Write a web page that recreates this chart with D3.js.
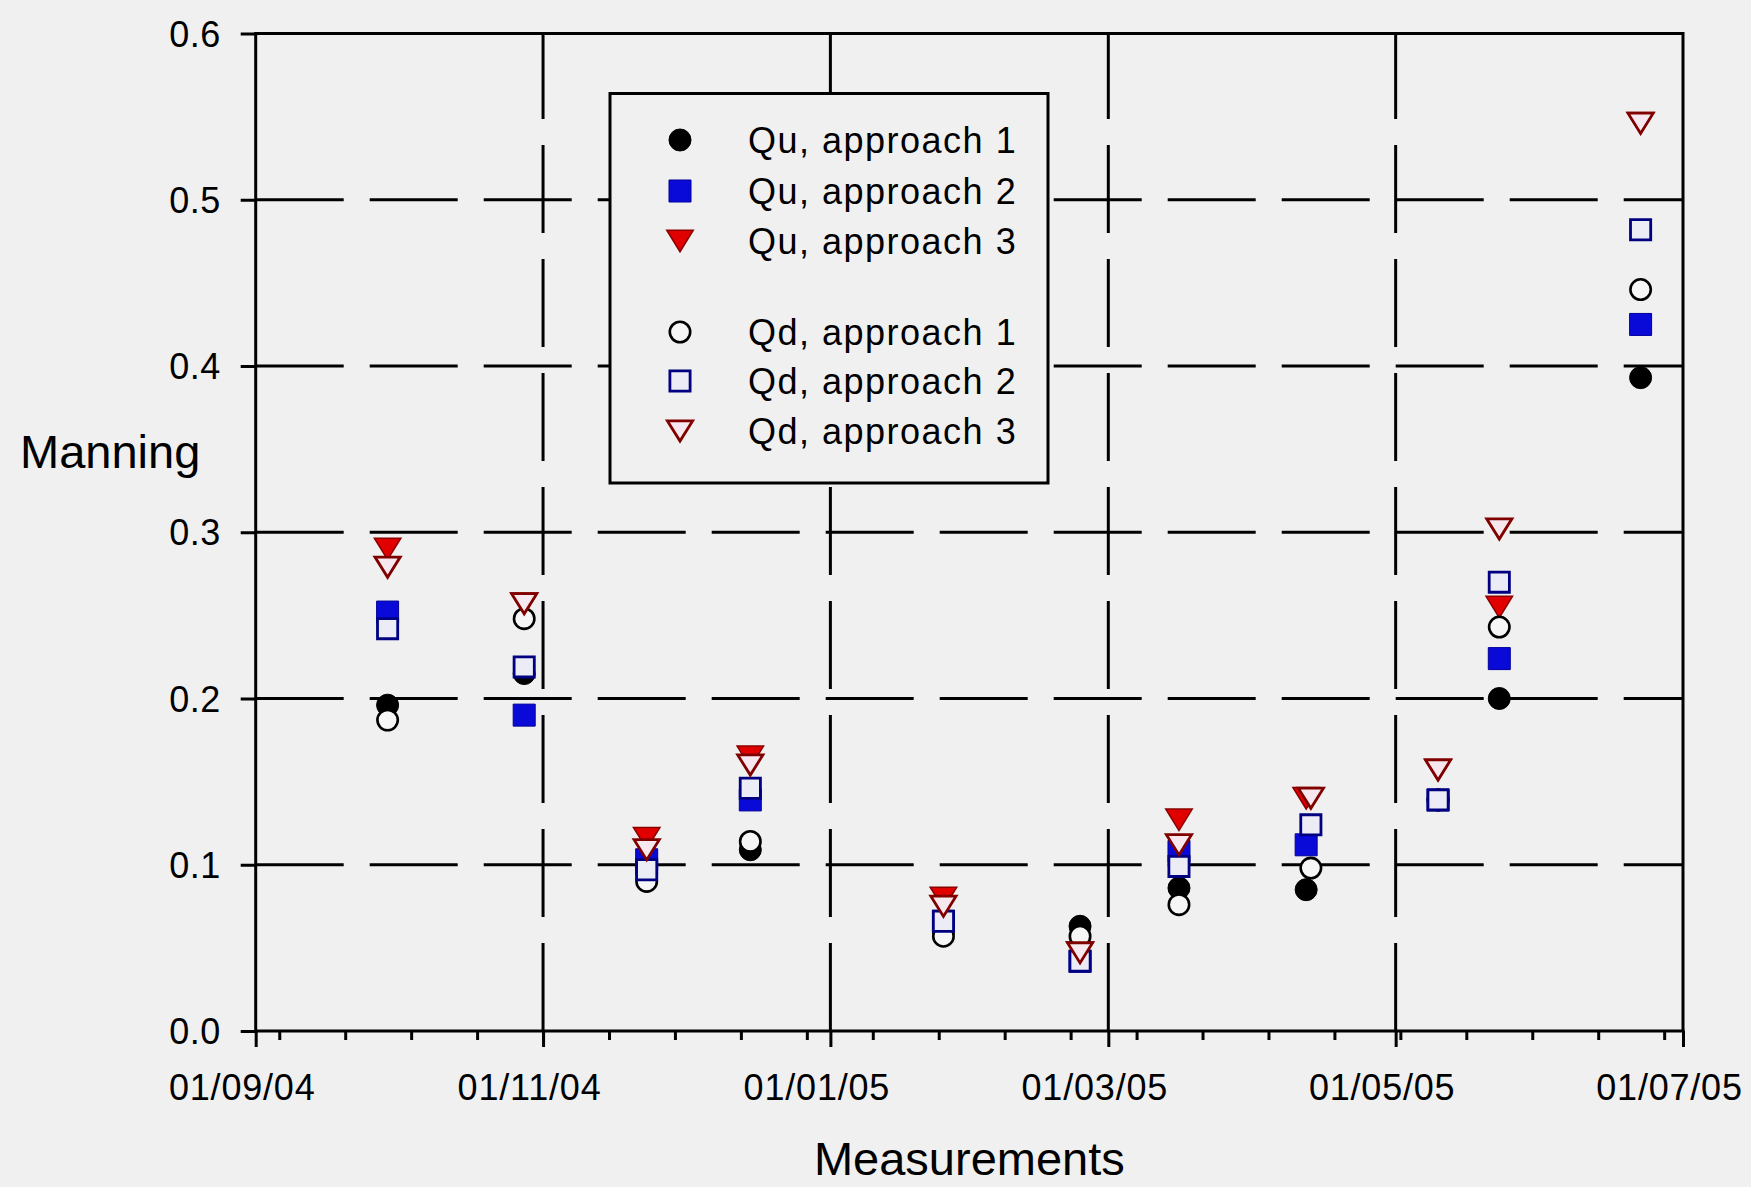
<!DOCTYPE html>
<html><head><meta charset="utf-8">
<script src="https://cdn.jsdelivr.net/npm/d3@7"></script>
<style>
html,body{margin:0;padding:0;background:#f0f0f0;}
svg{display:block;}
text{font-family:"Liberation Sans",Arial,sans-serif;fill:#000;}
</style>
</head><body>
<svg id="chart" width="1751" height="1187"></svg>
<script>
// ---------------- data ----------------
const quDates = ["2004-09-29","2004-10-28","2004-11-23","2004-12-15","2005-01-25","2005-02-23","2005-03-16","2005-04-12","2005-05-10","2005-05-23","2005-06-22"];
const qdDates = ["2004-09-29","2004-10-28","2004-11-23","2004-12-15","2005-01-25","2005-02-23","2005-03-16","2005-04-13","2005-05-10","2005-05-23","2005-06-22"];

const quApproach1 = [0.196, 0.215, 0.095, 0.109, 0.060, 0.063, 0.086, 0.085, 0.139, 0.200, 0.393];
const quApproach2 = [0.252, 0.190, 0.103, 0.139, 0.066, 0.042, 0.108, 0.112, 0.139, 0.224, 0.425];
const quApproach3 = [0.290, 0.257, 0.116, 0.165, 0.080, 0.047, 0.127, 0.140, 0.157, 0.255, 0.546];
const qdApproach1 = [0.187, 0.248, 0.090, 0.114, 0.057, 0.057, 0.076, 0.098, 0.139, 0.243, 0.446];
const qdApproach2 = [0.242, 0.219, 0.097, 0.146, 0.066, 0.042, 0.099, 0.124, 0.139, 0.270, 0.482];
const qdApproach3 = [0.279, 0.257, 0.109, 0.160, 0.075, 0.047, 0.112, 0.140, 0.157, 0.302, 0.546];

const seriesNames = ["Qu, approach 1","Qu, approach 2","Qu, approach 3","Qd, approach 1","Qd, approach 2","Qd, approach 3"];
const yTickValues = [0.0, 0.1, 0.2, 0.3, 0.4, 0.5, 0.6];
const xDomain = ["2004-09-01","2005-07-01"];
const yLabel = "Manning";
const xLabel = "Measurements";

// ---------------- styles ----------------
const markerStyles = [
  {shape:"circle",   fill:"#000000", stroke:"#000000", sw:1},
  {shape:"square",   fill:"#0a0ad8", stroke:"#00009a", sw:1},
  {shape:"triangle", fill:"#e00000", stroke:"#8a0000", sw:1.5},
  {shape:"circle",   fill:"#f6f6f6", stroke:"#000000", sw:2.6},
  {shape:"square",   fill:"#ececf6", stroke:"#000080", sw:2.8},
  {shape:"triangle", fill:"#f6e8ee", stroke:"#800000", sw:2.8}
];

// ---------------- layout ----------------
const parse = d3.utcParse("%Y-%m-%d");
const L = 255.7, R = 1683, T = 33.5, B = 1031;
const svg = d3.select("#chart");
const x = d3.scaleUtc().domain(xDomain.map(parse)).range([L, R]);
const y = d3.scaleLinear().domain([0, 0.6]).range([B, T]);
const lineW = 3;
const dash = "88,26";

const series = [
  {name:seriesNames[0], dates:quDates, values:quApproach1, st:markerStyles[0]},
  {name:seriesNames[1], dates:quDates, values:quApproach2, st:markerStyles[1]},
  {name:seriesNames[2], dates:quDates, values:quApproach3, st:markerStyles[2]},
  {name:seriesNames[3], dates:qdDates, values:qdApproach1, st:markerStyles[3]},
  {name:seriesNames[4], dates:qdDates, values:qdApproach2, st:markerStyles[4]},
  {name:seriesNames[5], dates:qdDates, values:qdApproach3, st:markerStyles[5]}
];

// ---------------- grid ----------------
const grid = svg.append("g").attr("stroke","#000").attr("stroke-width",lineW);
grid.selectAll("line.h").data(yTickValues.filter(v => v > 0 && v < 0.6)).join("line")
  .attr("x1", L).attr("x2", R).attr("y1", d => y(d)).attr("y2", d => y(d))
  .attr("stroke-dasharray", dash);
const majorMonths = d3.utcMonth.every(2).range(x.domain()[0], d3.utcDay.offset(x.domain()[1], 1));
grid.selectAll("line.v").data(majorMonths.filter(d => +d > +x.domain()[0] && +d < +x.domain()[1])).join("line")
  .attr("x1", d => x(d)).attr("x2", d => x(d)).attr("y1", B).attr("y2", T)
  .attr("stroke-dasharray", dash);
grid.append("line").attr("x1", L).attr("x2", R).attr("y1", y(0.6)).attr("y2", y(0.6));
grid.append("line").attr("x1", R).attr("x2", R).attr("y1", T - 1.5).attr("y2", B);
grid.append("line").attr("x1", L).attr("x2", L).attr("y1", T - 1.5).attr("y2", B + 1.5);
grid.append("line").attr("x1", L).attr("x2", R + 1.5).attr("y1", B).attr("y2", B);

// ---------------- axes ----------------
const fsTick = 36;
const yAxis = d3.axisLeft(y).tickValues(yTickValues).tickFormat(d3.format(".1f"))
  .tickSize(15).tickPadding(20);
const gy = svg.append("g").attr("transform", `translate(${L},0)`).call(yAxis);
gy.select(".domain").remove();
gy.selectAll(".tick line").attr("stroke","#000").attr("stroke-width",lineW);
gy.selectAll(".tick text").attr("font-size", fsTick).attr("dy", null).attr("dominant-baseline","central")
  .attr("font-family","Liberation Sans, Arial, sans-serif").attr("letter-spacing", 0.5);

const minorTicks = d3.utcMonday.range(x.domain()[0], x.domain()[1], 2);
const xMinor = d3.axisBottom(x).tickValues(minorTicks).tickFormat("").tickSize(9);
const gxm = svg.append("g").attr("transform", `translate(0,${B})`).call(xMinor);
gxm.select(".domain").remove();
gxm.selectAll(".tick line").attr("stroke","#000").attr("stroke-width",lineW);

const xAxis = d3.axisBottom(x).tickValues(majorMonths).tickFormat(d3.utcFormat("%d/%m/%y"))
  .tickSize(16).tickPadding(27);
const gx = svg.append("g").attr("transform", `translate(0,${B})`).call(xAxis);
gx.select(".domain").remove();
gx.selectAll(".tick line").attr("stroke","#000").attr("stroke-width",lineW);
gx.selectAll(".tick text").attr("font-size", fsTick).attr("dx", -14)
  .attr("font-family","Liberation Sans, Arial, sans-serif").attr("letter-spacing", 0.8);

svg.append("text").attr("x", 20).attr("y", 468).attr("font-size", 47).text(yLabel);
svg.append("text").attr("x", (L + R) / 2).attr("y", 1175).attr("text-anchor","middle")
  .attr("font-size", 47).text(xLabel);

// ---------------- markers ----------------
function markerPath(shape, sw) {
  if (shape === "circle") {
    const r = 11.5 - sw / 2;
    return `M${-r},0A${r},${r} 0 1,0 ${r},0A${r},${r} 0 1,0 ${-r},0Z`;
  }
  if (shape === "square") {
    const h = 11.5 - sw / 2;
    return `M${-h},${-h}H${h}V${h}H${-h}Z`;
  }
  const w = 14 - sw / 2, hh = 11.5 - sw / 2;
  return `M${-w},${-hh}L${w},${-hh}L0,${hh}Z`;
}

const gm = svg.append("g");
series.forEach(s => {
  const pts = s.values.map((v, i) => ({d: parse(s.dates[i]), v}));
  gm.append("g").selectAll("path").data(pts).join("path")
    .attr("transform", p => `translate(${x(p.d)},${y(p.v)})`)
    .attr("d", markerPath(s.st.shape, s.st.sw))
    .attr("fill", s.st.fill).attr("stroke", s.st.stroke).attr("stroke-width", s.st.sw)
    .attr("stroke-linejoin","miter");
});

// ---------------- legend ----------------
const leg = svg.append("g");
leg.append("rect").attr("x", 610).attr("y", 93.5).attr("width", 438).attr("height", 389.5)
  .attr("fill","#f0f0f0").attr("stroke","#000").attr("stroke-width", lineW);
const rowY = [140, 191, 241, 332, 381, 431];
series.forEach((s, i) => {
  leg.append("path").attr("transform", `translate(680,${rowY[i]})`)
    .attr("d", markerPath(s.st.shape, s.st.sw))
    .attr("fill", s.st.fill).attr("stroke", s.st.stroke).attr("stroke-width", s.st.sw);
  leg.append("text").attr("x", 748).attr("y", rowY[i] + 13).attr("font-size", 36)
    .attr("letter-spacing", 1.5).text(s.name);
});
</script>
</body></html>
